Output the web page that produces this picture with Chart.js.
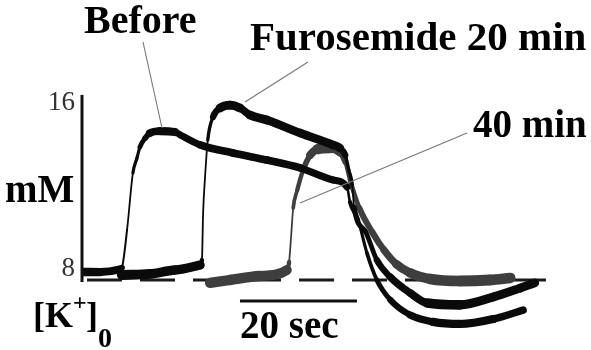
<!DOCTYPE html>
<html lang="en">
<head>
  <meta charset="UTF-8">
  <title>[K+]o transients</title>
  <script src="https://cdn.jsdelivr.net/npm/chart.js"></script>
  <style>
    html, body { margin: 0; padding: 0; background: #fff; }
  </style>
</head>
<body>
<canvas id="kChart" width="591" height="350"></canvas>

<script>
  // time in seconds (from the y axis), [K+]o in mM
  var beforeTime = [0.3, 3.1, 6.5, 6.8, 7.7, 8.7, 9.4, 9.9, 10.8, 11.6, 13.3, 15.9, 16.8, 20.2, 25.8, 31.6, 37.3, 42.9, 45.3, 45.8, 47.2, 48.7, 50.4, 52.7, 56.1, 60.0, 64.6, 70.3, 75.4];
  var beforeK    = [7.86, 7.85, 7.98, 8.05, 9.88, 12.63, 13.35, 13.88, 14.31, 14.55, 14.65, 14.60, 14.46, 13.98, 13.59, 13.25, 12.87, 12.29, 11.95, 11.23, 10.36, 8.77, 7.47, 6.51, 5.78, 5.45, 5.35, 5.59, 6.02];

  var furoTime = [6.8, 11.6, 15.9, 20.2, 20.5, 20.7, 21.0, 21.5, 22.4, 23.6, 25.3, 27.0, 28.7, 31.6, 37.3, 42.9, 44.1, 45.0, 45.6, 46.2, 46.5, 48.5, 50.4, 52.7, 56.1, 59.0, 64.6, 70.3, 74.9, 77.4];
  var furoK    = [7.71, 7.76, 7.95, 8.19, 8.43, 10.70, 12.29, 14.22, 15.33, 15.76, 15.90, 15.76, 15.42, 15.18, 14.55, 13.98, 13.83, 13.49, 12.77, 12.05, 10.99, 9.78, 8.43, 7.61, 6.84, 6.36, 6.27, 6.65, 7.08, 7.33];

  var min40Time = [21.9, 25.3, 30.4, 35.0, 35.4, 35.7, 36.1, 36.8, 37.8, 39.0, 40.3, 42.4, 44.1, 45.0, 45.8, 47.4, 49.6, 51.6, 53.7, 56.1, 59.5, 64.6, 69.7, 73.2];
  var min40K    = [7.33, 7.47, 7.66, 7.95, 8.34, 9.40, 10.94, 11.81, 12.77, 13.49, 13.78, 13.83, 13.64, 13.16, 12.29, 10.94, 9.78, 8.92, 8.24, 7.81, 7.52, 7.42, 7.47, 7.57];

  // dashed resting level and 20 s scale bar
  var baselineTime = [0, 80.3];
  var baselineK    = [7.47, 7.47];
  var scaleBarTime = [27, 47];
  var scaleBarK    = [6.46, 6.46];

  var yTicks = [8, 16];
  var axisTop = 16.39, axisBottom = 7.37;

  function toPoints(xs, ys) {
    return xs.map(function (x, i) { return { x: x, y: ys[i] }; });
  }

  // pen trace looks thin on the fast rises, thick on the slow parts
  function penWidth(base) {
    return function (ctx) {
      var dx = Math.abs(ctx.p1.x - ctx.p0.x) || 0.01;
      var slope = Math.abs(ctx.p1.y - ctx.p0.y) / dx;
      return Math.max(1.8, base / (1 + 0.45 * slope));
    };
  }

  function trace(label, xs, ys, color, base) {
    return {
      label: label,
      data: toPoints(xs, ys),
      borderColor: color,
      borderWidth: base,
      borderCapStyle: 'round',
      borderJoinStyle: 'round',
      cubicInterpolationMode: 'monotone',
      pointRadius: 0,
      segment: { borderWidth: penWidth(base) }
    };
  }

  var serif = "'Liberation Serif', 'Times New Roman', serif";

  var figureText = {
    id: 'figureText',
    afterDraw: function (chart) {
      var ctx = chart.ctx, y = chart.scales.y, area = chart.chartArea;
      ctx.save();

      ctx.strokeStyle = '#111';
      ctx.lineWidth = 3;
      ctx.beginPath();
      ctx.moveTo(area.left, y.getPixelForValue(axisTop));
      ctx.lineTo(area.left, y.getPixelForValue(axisBottom));
      ctx.stroke();

      // leader lines
      ctx.strokeStyle = '#777';
      ctx.lineWidth = 1.1;
      [[143, 42, 162, 128], [308, 62, 245, 102], [467, 133, 300, 203]].forEach(function (l) {
        ctx.beginPath();
        ctx.moveTo(l[0], l[1]);
        ctx.lineTo(l[2], l[3]);
        ctx.stroke();
      });

      ctx.fillStyle = '#000';
      ctx.textBaseline = 'alphabetic';
      ctx.textAlign = 'left';
      function txt(s, size, x, yy) {
        ctx.font = 'bold ' + size + 'px ' + serif;
        ctx.fillText(s, x, yy);
      }
      txt('Before', 40, 84, 33);
      txt('Furosemide 20 min', 41, 250, 50);
      txt('40 min', 39, 473, 137);
      txt('mM', 39, 5, 202);
      txt('20 sec', 39, 240, 338);
      txt('[K', 36, 33, 327);
      txt('+', 24, 73, 310);
      txt(']', 36, 86, 327);
      txt('0', 28, 98, 347);

      ctx.restore();
    }
  };

  new Chart(document.getElementById('kChart'), {
    type: 'line',
    data: {
      datasets: [
        trace('Before', beforeTime, beforeK, '#0a0a0a', 8.5),
        trace('Furosemide 20 min', furoTime, furoK, '#0a0a0a', 10),
        trace('40 min', min40Time, min40K, '#3e3e3e', 11),
        {
          label: 'rest',
          data: toPoints(baselineTime, baselineK),
          borderColor: '#1a1a1a',
          borderWidth: 3,
          borderDash: [35, 18],
          borderDashOffset: 48,
          pointRadius: 0
        },
        {
          label: '20 sec',
          data: toPoints(scaleBarTime, scaleBarK),
          borderColor: '#111',
          borderWidth: 3,
          pointRadius: 0
        }
      ]
    },
    options: {
      responsive: false,
      animation: false,
      layout: { padding: 0 },
      plugins: { legend: { display: false }, tooltip: { enabled: false } },
      scales: {
        x: { type: 'linear', min: 0, max: 87.0, display: false },
        y: {
          min: 4.096,
          max: 20.964,
          grid: { display: false, drawTicks: false },
          border: { display: false },
          afterBuildTicks: function (scale) {
            scale.ticks = yTicks.map(function (v) { return { value: v }; });
          },
          afterFit: function (scale) {
            scale.width = 82;
            scale.paddingTop = 0;
            scale.paddingBottom = 0;
          },
          ticks: {
            padding: 7,
            color: '#333',
            font: { family: serif, size: 27 }
          }
        }
      }
    },
    plugins: [figureText]
  });
</script>
</body>
</html>
